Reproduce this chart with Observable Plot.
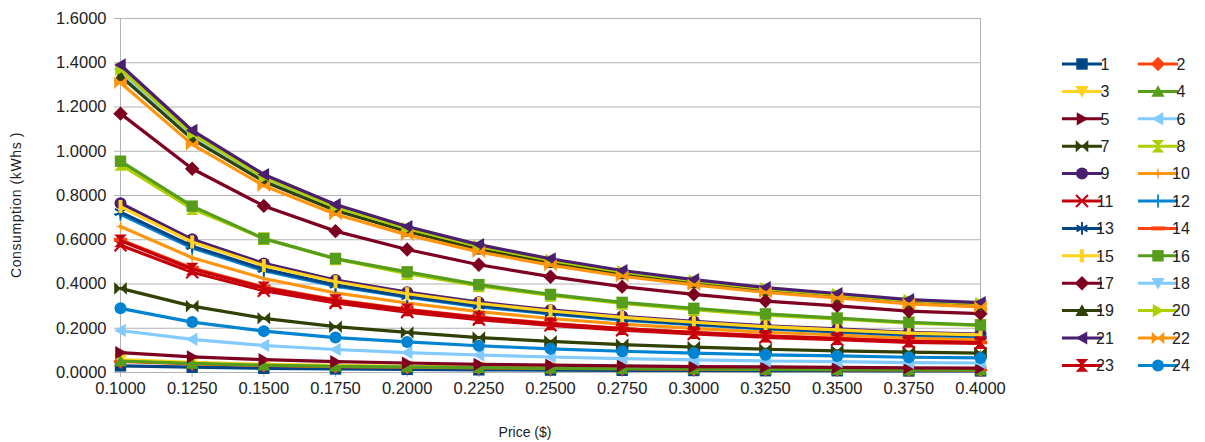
<!DOCTYPE html>
<html>
<head>
<meta charset="utf-8">
<script src="https://cdn.jsdelivr.net/npm/d3@7"></script>
<script src="https://cdn.jsdelivr.net/npm/@observablehq/plot@0.6"></script>
<style>
  html, body { margin: 0; padding: 0; background: #fff; }
  #chart { width: 1205px; height: 442px; }
</style>
</head>
<body>
<div id="chart"></div>
<script>
// ---------- data ----------
const prices = [0.1, 0.125, 0.15, 0.175, 0.2, 0.225, 0.25, 0.275, 0.3, 0.325, 0.35, 0.375, 0.4];
const xTicks = prices;
const yTicks = [0, 0.2, 0.4, 0.6, 0.8, 1.0, 1.2, 1.4, 1.6];
const seriesNames = ["1","2","3","4","5","6","7","8","9","10","11","12","13","14","15","16","17","18","19","20","21","22","23","24"];

const s1  = [0.030,0.024,0.019,0.016,0.014,0.012,0.011,0.010,0.009,0.008,0.008,0.007,0.007];
const s2  = [0.050,0.039,0.032,0.027,0.024,0.021,0.019,0.017,0.015,0.014,0.013,0.012,0.011];
const s3  = [0.058,0.046,0.037,0.032,0.028,0.024,0.021,0.019,0.018,0.016,0.015,0.014,0.013];
const s4  = [0.052,0.041,0.033,0.028,0.025,0.022,0.019,0.017,0.016,0.014,0.013,0.012,0.012];
const s5  = [0.090,0.071,0.058,0.049,0.043,0.037,0.033,0.030,0.027,0.025,0.023,0.021,0.020];
const s6  = [0.190,0.150,0.122,0.104,0.090,0.079,0.070,0.063,0.057,0.052,0.049,0.045,0.043];
const s7  = [0.380,0.300,0.245,0.207,0.181,0.158,0.141,0.126,0.115,0.105,0.098,0.092,0.088];
const s8  = [0.940,0.740,0.605,0.513,0.447,0.391,0.348,0.312,0.284,0.259,0.242,0.223,0.213];
const s9  = [0.765,0.602,0.493,0.418,0.363,0.318,0.283,0.254,0.231,0.211,0.197,0.181,0.174];
const s10 = [0.660,0.519,0.425,0.360,0.314,0.275,0.244,0.219,0.199,0.182,0.170,0.156,0.150];
const s11 = [0.575,0.453,0.370,0.314,0.273,0.239,0.213,0.191,0.174,0.159,0.148,0.136,0.131];
const s12 = [0.715,0.563,0.460,0.390,0.340,0.297,0.265,0.237,0.216,0.197,0.184,0.169,0.162];
const s13 = [0.725,0.571,0.467,0.396,0.344,0.302,0.268,0.241,0.219,0.200,0.186,0.172,0.165];
const s14 = [0.600,0.472,0.386,0.328,0.285,0.250,0.222,0.199,0.181,0.166,0.154,0.142,0.136];
const s15 = [0.750,0.590,0.483,0.410,0.356,0.312,0.278,0.249,0.227,0.207,0.193,0.178,0.170];
const s16 = [0.955,0.752,0.605,0.515,0.455,0.397,0.353,0.317,0.290,0.265,0.246,0.227,0.214];
const s17 = [1.170,0.921,0.753,0.639,0.556,0.487,0.433,0.388,0.353,0.323,0.301,0.277,0.266];
const s18 = [1.350,1.062,0.869,0.737,0.641,0.562,0.500,0.448,0.408,0.373,0.347,0.320,0.306];
const s19 = [1.340,1.055,0.863,0.732,0.637,0.557,0.496,0.445,0.405,0.370,0.344,0.318,0.304];
const s20 = [1.370,1.078,0.882,0.748,0.651,0.570,0.507,0.455,0.414,0.378,0.352,0.325,0.311];
const s21 = [1.390,1.094,0.895,0.759,0.660,0.578,0.514,0.461,0.420,0.384,0.357,0.329,0.316];
const s22 = [1.310,1.031,0.844,0.715,0.622,0.545,0.485,0.435,0.396,0.362,0.337,0.310,0.297];
const s23 = [0.595,0.468,0.383,0.325,0.283,0.248,0.220,0.198,0.180,0.164,0.153,0.141,0.135];
const s24 = [0.290,0.228,0.187,0.158,0.138,0.121,0.107,0.096,0.088,0.080,0.075,0.069,0.066];

const seriesValues = [s1,s2,s3,s4,s5,s6,s7,s8,s9,s10,s11,s12,s13,s14,s15,s16,s17,s18,s19,s20,s21,s22,s23,s24];

const palette = ["#004586","#ff420e","#ffd320","#579d1c","#7e0021","#83caff",
                 "#314004","#aecf00","#4b1f6f","#ff950e","#c5000b","#0084d1"];

// ---------- symbols ----------
const R = s => Math.sqrt(s / Math.PI);
function poly(c, pts, r) {
  c.moveTo(pts[0][0]*r, pts[0][1]*r);
  for (let i = 1; i < pts.length; i++) c.lineTo(pts[i][0]*r, pts[i][1]*r);
  c.closePath();
}
function bar(c, x1, y1, x2, y2, w) {
  const dx = x2 - x1, dy = y2 - y1, L = Math.hypot(dx, dy);
  const nx = -dy / L * w / 2, ny = dx / L * w / 2;
  c.moveTo(x1 + nx, y1 + ny); c.lineTo(x2 + nx, y2 + ny);
  c.lineTo(x2 - nx, y2 - ny); c.lineTo(x1 - nx, y1 - ny); c.closePath();
}
const symbols = [
  {draw(c,s){const r=R(s)*0.95; c.rect(-r,-r,2*r,2*r);}},                               // square
  {draw(c,s){poly(c,[[0,-1],[1,0],[0,1],[-1,0]],R(s)*1.2);}},                             // diamond
  {draw(c,s){poly(c,[[-1,-0.8],[1,-0.8],[0,0.95]],R(s)*1.1);}},                           // down
  {draw(c,s){poly(c,[[-1,0.8],[1,0.8],[0,-0.95]],R(s)*1.1);}},                            // up
  {draw(c,s){poly(c,[[-0.8,-1],[-0.8,1],[0.95,0]],R(s)*1.1);}},                           // right
  {draw(c,s){poly(c,[[0.8,-1],[0.8,1],[-0.95,0]],R(s)*1.1);}},                            // left
  {draw(c,s){const r=R(s)*1.05; poly(c,[[-1,-1],[0.05,0],[-1,1]],r); poly(c,[[1,-1],[1,1],[-0.05,0]],r);}}, // bowtie
  {draw(c,s){const r=R(s)*1.05; poly(c,[[-1,-1],[1,-1],[0,0.05]],r); poly(c,[[1,1],[-1,1],[0,-0.05]],r);}}, // hourglass
  {draw(c,s){const r=R(s); c.moveTo(r,0); c.arc(0,0,r,0,2*Math.PI);}},                   // circle
  {draw(c,s){poly(c,[[0,-1.1],[0.18,-0.18],[0.8,0],[0.18,0.18],[0,1.1],[-0.18,0.18],[-0.8,0],[-0.18,-0.18]],R(s));}}, // star
  {draw(c,s){const r=R(s); bar(c,-r,-r,r,r,r*0.35); bar(c,-r,r,r,-r,r*0.35);}},          // x
  {draw(c,s){const r=R(s)*1.1; bar(c,-r,0,r,0,r*0.28); bar(c,0,r,0,-r,r*0.28);}},        // plus
  {draw(c,s){const r=R(s)*1.05; bar(c,0,-r,0,r,r*0.3); bar(c,-r*0.87,-r*0.5,r*0.87,r*0.5,r*0.3); bar(c,-r*0.87,r*0.5,r*0.87,-r*0.5,r*0.3);}}, // asterisk
  {draw(c,s){const r=R(s)*1.1; c.rect(-r,-r*0.3,2*r,r*0.6);}},                           // hbar
  {draw(c,s){const r=R(s)*1.1; c.rect(-r*0.3,-r,r*0.6,2*r);}}                            // vbar
];

const colorOf = i => palette[i % palette.length];
const symbolOf = i => symbols[i % symbols.length];

// ---------- marks ----------
const grid = "#b3b3b3";
const dotR = 6;
const seriesMarks = [];
seriesValues.forEach((vals, i) => {
  const rows = prices.map((p, j) => ({price: p, value: vals[j], series: seriesNames[i]}));
  seriesMarks.push(Plot.line(rows, {x: "price", y: "value", stroke: colorOf(i), strokeWidth: 3.2}));
  seriesMarks.push(Plot.dot(rows, {x: "price", y: "value", fill: colorOf(i), stroke: "none", symbol: symbolOf(i), r: dotR}));
});

const fmt = d3.format(".4f");
const chart = Plot.plot({
  width: 1205,
  height: 442,
  marginLeft: 120,
  marginRight: 225,
  marginTop: 18,
  marginBottom: 70,
  style: {fontFamily: "'Liberation Sans', Arial, sans-serif", fontSize: "16.5px", color: "#222", background: "#fff"},
  x: {domain: [0.1, 0.4], label: null},
  y: {domain: [0, 1.6], label: null},
  marks: [
    Plot.ruleY(yTicks, {stroke: grid, strokeWidth: 1}),
    Plot.ruleX([0.1, 0.4], {stroke: grid, strokeWidth: 1}),
    Plot.axisX({ticks: xTicks, tickFormat: fmt, tickSize: 5, tickPadding: 5, stroke: grid, label: null, fill: "#222"}),
    Plot.axisY({ticks: yTicks, tickFormat: fmt, tickSize: 6, tickPadding: 8, stroke: grid, label: null, fill: "#222"}),
    ...seriesMarks
  ]
});
document.getElementById("chart").appendChild(chart);

// ---------- titles & legend ----------
const svg = d3.select(chart);
svg.append("text")
  .attr("transform", "translate(21,205) rotate(-90)")
  .attr("text-anchor", "middle")
  .attr("fill", "#222")
  .style("font-size", "14px")
  .style("letter-spacing", "0.6px")
  .text("Consumption (kWhs )");
svg.append("text")
  .attr("x", 525).attr("y", 437)
  .attr("text-anchor", "middle")
  .attr("fill", "#222")
  .style("font-size", "14px")
  .text("Price ($)");

const legend = svg.append("g");
seriesNames.forEach((name, i) => {
  const col = i % 2, row = Math.floor(i / 2);
  const x0 = col === 0 ? 1062 : 1138;
  const y = 64 + row * 27.4;
  const g = legend.append("g").attr("transform", `translate(${x0},${y})`);
  g.append("line").attr("x1", 0).attr("x2", 40).attr("y1", 0).attr("y2", 0)
    .attr("stroke", colorOf(i)).attr("stroke-width", 3);
  g.append("path").attr("transform", "translate(20,0)")
    .attr("d", d3.symbol().type(symbolOf(i)).size(Math.PI * dotR * dotR)())
    .attr("fill", colorOf(i));
  g.append("text").attr("x", 43).attr("y", 0).attr("dy", "0.36em")
    .attr("fill", "#222").style("font-size", "16px").text(name);
});
</script>
</body>
</html>
